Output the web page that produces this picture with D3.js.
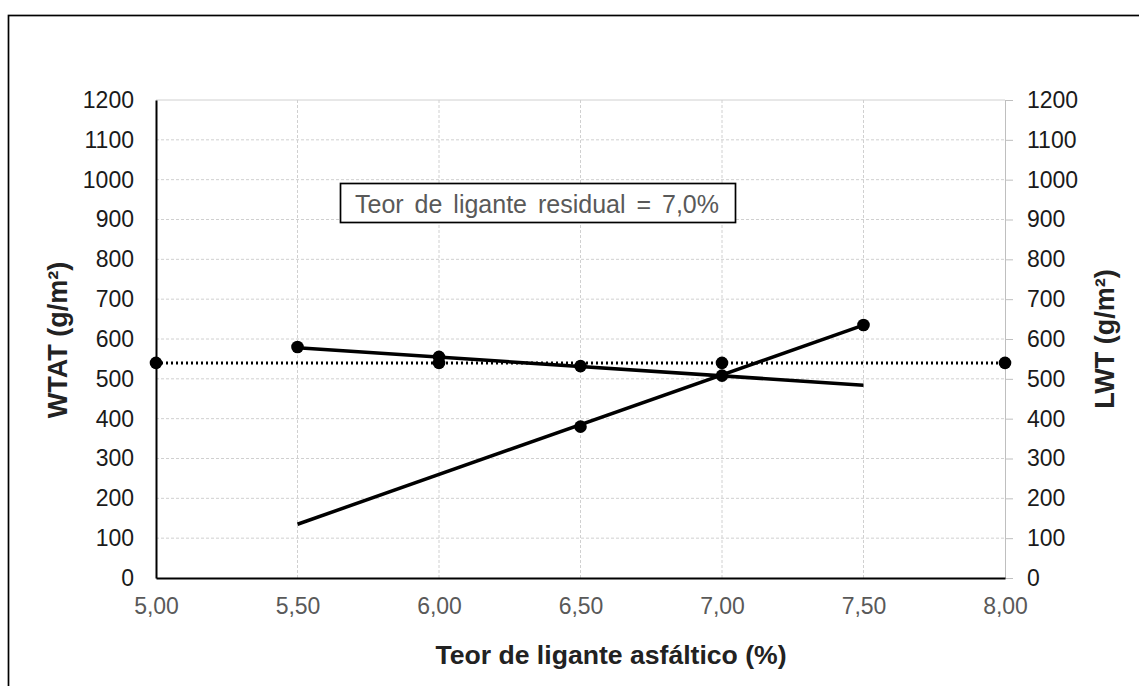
<!DOCTYPE html>
<html>
<head>
<meta charset="utf-8">
<script src="https://cdn.jsdelivr.net/npm/d3@7"></script>
<style>
  body { margin: 0; background: #fff; }
  svg text { font-family: "Liberation Sans", Arial, sans-serif; }
</style>
</head>
<body>
<div id="chart"></div>
<script>
// data
const xTicks = [5.0, 5.5, 6.0, 6.5, 7.0, 7.5, 8.0];
const yTicks = [0, 100, 200, 300, 400, 500, 600, 700, 800, 900, 1000, 1100, 1200];
const wtatPoints = [[5.5, 580], [6.0, 555], [6.5, 532]];
const wtatTrend = [[5.5, 578], [7.5, 484]];
const lwtPoints = [[6.5, 380], [7.0, 508], [7.5, 635]];
const lwtTrend = [[5.5, 135], [7.5, 635]];
const residual = [[5.0, 540], [6.0, 540], [7.0, 540], [8.0, 540]];
const note = "Teor de ligante residual = 7,0%";

const W = 1139, H = 686;
const margin = { top: 100, right: 134, bottom: 108, left: 156 };
const width = W - margin.left - margin.right;
const height = H - margin.top - margin.bottom;

const svg = d3.select("#chart").append("svg")
  .attr("width", W)
  .attr("height", H);

// outer frame (runs off right and bottom)
svg.append("rect")
  .attr("x", 8.5).attr("y", 15.5)
  .attr("width", W + 20).attr("height", H + 20)
  .attr("fill", "none").attr("stroke", "#000").attr("stroke-width", 1.7);

const g = svg.append("g")
  .attr("transform", `translate(${margin.left},${margin.top})`);

const x = d3.scaleLinear().domain([5, 8]).range([0, width]);
const y = d3.scaleLinear().domain([0, 1200]).range([height, 0]);
const fmt = d => d3.format(".2f")(d).replace(".", ",");

// grid
g.append("g").selectAll("line").data(yTicks.slice(1)).join("line")
  .attr("x1", 0).attr("x2", width)
  .attr("y1", d => y(d)).attr("y2", d => y(d))
  .attr("stroke", "#d0d0d0")
  .attr("stroke-dasharray", d => d === 1200 ? null : "3,2");
g.append("g").selectAll("line").data(xTicks.slice(1, -1)).join("line")
  .attr("x1", d => x(d)).attr("x2", d => x(d))
  .attr("y1", 0).attr("y2", height)
  .attr("stroke", "#d0d0d0").attr("stroke-dasharray", "3,2");

// right axis (gray, outward ticks)
const yRight = g.append("g")
  .attr("transform", `translate(${width},0)`)
  .call(d3.axisRight(y).tickValues(yTicks).tickFormat(d3.format("d")).tickSize(8).tickPadding(14));
yRight.select(".domain").attr("stroke", "#bfbfbf");
yRight.selectAll(".tick line").attr("stroke", "#bfbfbf");
yRight.selectAll("text").attr("font-size", 23).attr("fill", "#1a1a1a");

// left axis
const yLeft = g.append("g")
  .call(d3.axisLeft(y).tickValues(yTicks).tickFormat(d3.format("d")).tickSize(0).tickPadding(22));
yLeft.select(".domain").attr("stroke", "#000").attr("stroke-width", 2);
yLeft.selectAll("text").attr("font-size", 23).attr("fill", "#1a1a1a");

// bottom axis
const xAxis = g.append("g")
  .attr("transform", `translate(0,${height})`)
  .call(d3.axisBottom(x).tickValues(xTicks).tickFormat(fmt).tickSize(0).tickPadding(20));
xAxis.select(".domain").attr("stroke", "#000").attr("stroke-width", 2);
xAxis.selectAll("text").attr("font-size", 23).attr("fill", "#595959");

const line = d3.line().x(d => x(d[0])).y(d => y(d[1]));

// dotted residual line
g.append("path").datum(residual)
  .attr("d", line).attr("fill", "none")
  .attr("stroke", "#000").attr("stroke-width", 3)
  .attr("stroke-dasharray", "2,3");

g.append("path").datum(wtatTrend)
  .attr("d", line).attr("fill", "none")
  .attr("stroke", "#000").attr("stroke-width", 3.5);
g.append("path").datum(lwtTrend)
  .attr("d", line).attr("fill", "none")
  .attr("stroke", "#000").attr("stroke-width", 3.5);

g.append("g").selectAll("circle")
  .data([...residual, ...wtatPoints, ...lwtPoints]).join("circle")
  .attr("cx", d => x(d[0])).attr("cy", d => y(d[1]))
  .attr("r", 6.3).attr("fill", "#000");

// annotation box
const noteG = svg.append("g");
noteG.append("rect")
  .attr("x", 340.5).attr("y", 183.5).attr("width", 395).attr("height", 39)
  .attr("fill", "#fff").attr("stroke", "#000").attr("stroke-width", 1.7);
noteG.append("text")
  .attr("x", 537).attr("y", 213).attr("text-anchor", "middle")
  .attr("font-size", 25).attr("fill", "#595959")
  .attr("word-spacing", 4)
  .text(note);

// axis titles
svg.append("text")
  .attr("x", 611).attr("y", 664).attr("text-anchor", "middle")
  .attr("font-size", 26.6).attr("font-weight", "bold").attr("fill", "#222")
  .text("Teor de ligante asfáltico (%)");
svg.append("text")
  .attr("transform", "translate(67,340) rotate(-90)")
  .attr("text-anchor", "middle")
  .attr("font-size", 27).attr("font-weight", "bold").attr("fill", "#222")
  .text("WTAT (g/m²)");
svg.append("text")
  .attr("transform", "translate(1114,339) rotate(-90)")
  .attr("text-anchor", "middle")
  .attr("font-size", 27).attr("font-weight", "bold").attr("fill", "#222")
  .text("LWT (g/m²)");
</script>
</body>
</html>
